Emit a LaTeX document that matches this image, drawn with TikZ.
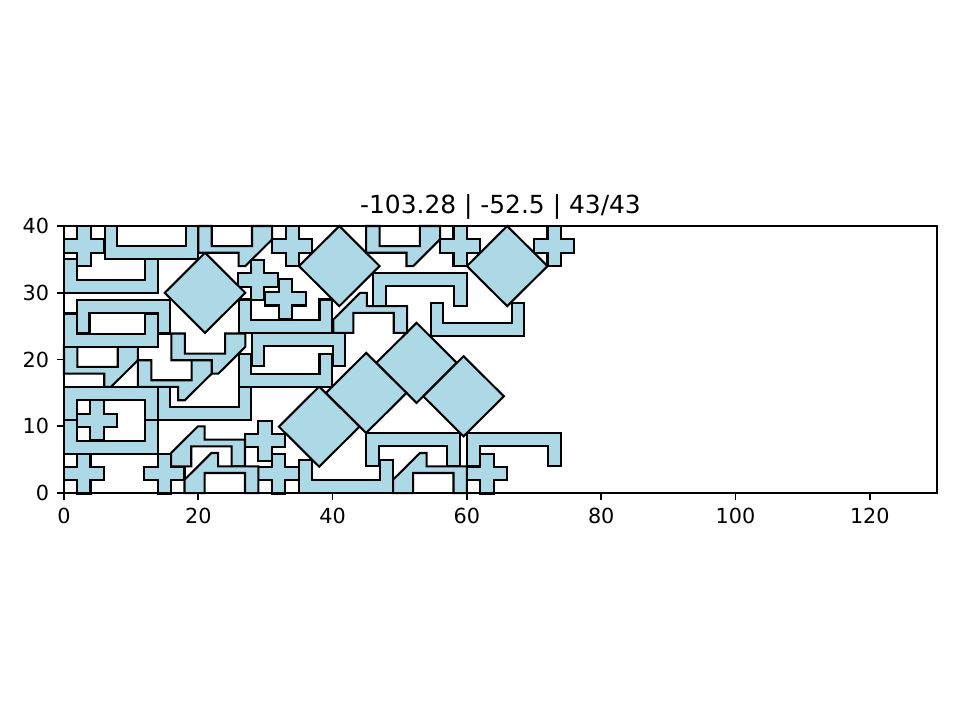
\documentclass[tikz,border=0pt]{standalone}
\usepackage{fontspec}
\setmainfont{DejaVu Sans}
\usetikzlibrary{positioning}
\definecolor{pieceblue}{RGB}{173,216,230}
\tikzset{
  piece/.style={draw=black,fill=pieceblue,line width=1pt,line join=miter},
  spine/.style={draw=black,line width=0.8pt},
  tickmark/.style={line width=0.8pt},
  lab/.style={font=\fontsize{10}{12}\selectfont,inner sep=0pt},
  plusbit/.pic={\path[piece] (-1,-3) -- (1,-3) -- (1,-1) -- (3,-1) -- (3,1) -- (1,1) -- (1,3)
    -- (-1,3) -- (-1,1) -- (-3,1) -- (-3,-1) -- (-1,-1) -- cycle;},
  diabit/.pic={\path[piece] (0,-6) -- (6,0) -- (0,6) -- (-6,0) -- cycle;},
  hookbit/.pic={\path[piece] (0,6) -- (0,2) -- (6,2) -- (6,0) -- (7,0) -- (11,4) -- (11,6)
    -- (8,6) -- (8,3) -- (2,3) -- (2,6) -- cycle;},
  hookturn/.pic={\path[piece] (0,0) -- (0,2) -- (4,6) -- (5,6) -- (5,4) -- (11,4) -- (11,0)
    -- (9,0) -- (9,3) -- (3,3) -- (3,0) -- cycle;},
  cupup/.pic={\path[piece] (0,0) -- (13.95,0) -- (13.95,5) -- (12.05,5) -- (12.05,1.95)
    -- (1.9,1.95) -- (1.9,5) -- (0,5) -- cycle;},
  cupdown/.pic={\path[piece] (0,0) -- (1.9,0) -- (1.9,3.05) -- (12.05,3.05) -- (12.05,0)
    -- (13.95,0) -- (13.95,5) -- (0,5) -- cycle;},
}

\begin{document}
\begin{tikzpicture}[x=0.11371cm,y=0.11303cm]
\useasboundingbox (-9.53,-34.01) rectangle (133.43,73.86);
% pieces
\foreach \cx/\cy in {3/37,34/37,59/37,73/37,28.85/31.9,33/29.1,4.9/10.9,
  2.95/2.9,14.95/2.9,29.95/7.85,31.95/2.9,63/2.9}
  \pic at (\cx,\cy) {plusbit};
\foreach \cx/\cy in {41/34,66/34,21/30,52.5/19.5,45/15,59.5/14.5,38/9.95}
  \pic at (\cx,\cy) {diabit};
\foreach \px/\py in {20/34,45/34,0/15.9,16/17.9,11/13.9}
  \pic at (\px,\py) {hookbit};
\foreach \px/\py in {15.95/4,17.95/0,49/0,40.1/24}
  \pic at (\px,\py) {hookturn};
\foreach \px/\py in {0/30,6.05/35,0/21.9,0/5.9,13.95/10.9,26/24,26/15.9,54.6/23.5,35/0}
  \pic at (\px,\py) {cupup};
\foreach \px/\py in {1.9/23.9,0/10.9,27.95/19,46/28,45/4,60/4}
  \pic at (\px,\py) {cupdown};
% axes
\draw[spine] (0,0) rectangle (130,40);
\foreach \x in {0,20,...,120}{
  \draw[tickmark] (\x,0) -- ++(0,-3.5pt);
  \node[lab,anchor=north] (xt\x) at ([yshift=-7pt]\x,0) {\x};}
\foreach \y in {0,10,...,40}{
  \draw[tickmark] (0,\y) -- ++(-3.5pt,0);
  \node[lab,anchor=east] (yt\y) at ([xshift=-7pt]0,\y) {\y};}
\node[font=\fontsize{12}{14}\selectfont,inner sep=0pt,anchor=base] (title)
  at ([yshift=6pt]65,40) {-103.28 | -52.5 | 43/43};
\end{tikzpicture}
\end{document}
